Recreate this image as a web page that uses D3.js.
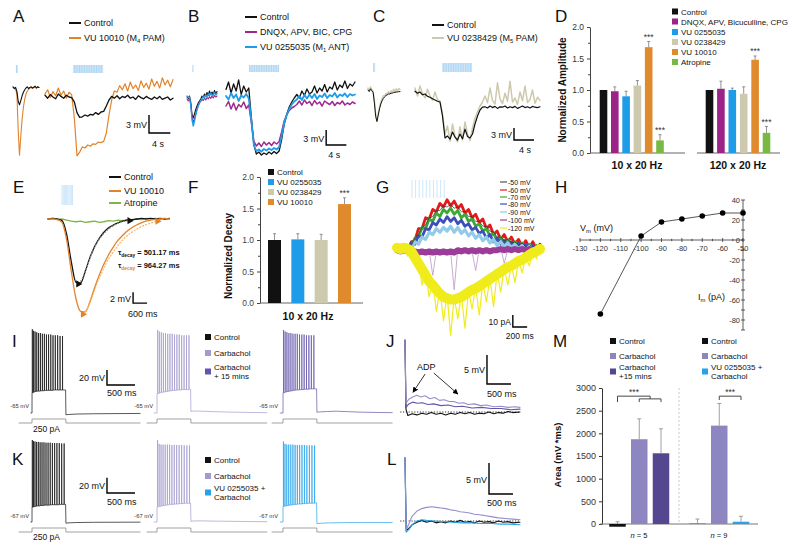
<!DOCTYPE html>
<html><head><meta charset="utf-8">
<script src="https://cdn.jsdelivr.net/npm/d3@7/dist/d3.min.js"></script>
<style>
html,body{margin:0;padding:0;background:#fff;}
svg{display:block;font-family:"Liberation Sans",Arial,Helvetica,sans-serif;}
</style></head><body>
<svg id="fig" width="800" height="549" viewBox="0 0 800 549"></svg>
<script>
// ================= DATA =================
// Panel A (mV, sampled every 0.25 s short / 0.5 s long)
const aShortCtrl=[0.2,-0.1,0.1,-0.6,-2.2,-2.8,-2.1,-1.3,-0.7,-0.3,0.0,0.2,-0.1,0.1,0.2,0.0,0.1,0.3,0.0,0.2,0.1];
const aShortVU=[0.1,0.0,-0.2,-1.0,-7.0,-11.2,-8.0,-5.2,-3.2,-1.9,-1.0,-0.5,-0.2,0.0,0.1,-0.1,0.2,0.1,0.0,0.2,0.1];
const aLongCtrl=[0.3,-0.2,0.4,0.0,-0.3,0.5,0.1,-0.2,0.3,0.0,-0.1,
 -0.8,-2.6,-3.4,-3.3,-3.0,-3.2,-2.9,-3.0,-2.6,-2.9,-2.5,-2.4,
 -1.5,-0.5,0.1,-0.2,
 0.2,-0.3,0.1,-0.1,0.3,-0.2,0.0,-0.4,0.2,-0.1,-0.3,0.1,-0.2,-0.4,0.0,-0.3,0.1,-0.4,-0.2,0.0,-0.5,-0.2];
const aLongVU=[0.5,1.2,-0.1,0.9,0.2,1.5,0.3,1.0,-0.2,0.8,0.4,
 -3.5,-9.8,-9.2,-8.3,-8.5,-8.0,-8.2,-7.8,-7.9,-7.5,-7.6,-7.4,
 -6.0,-3.0,-0.5,1.0,
 0.8,1.9,1.2,2.2,1.0,2.5,1.4,2.0,1.1,2.7,1.6,2.3,1.3,3.0,1.8,2.6,1.5,3.2,2.0,2.8,1.7,2.9];
// Panel B
const bShortCtrl=[0.0,-0.3,0.2,-1.0,-3.5,-4.2,-3.4,-2.5,-1.8,-1.2,-0.8,-0.4,0.2,-0.1,0.6,0.2,0.9,0.3,1.2,0.5,1.0,0.4,1.3,0.6,1.1];
const bShortVU=[0.2,-0.1,0.0,-1.5,-4.6,-5.8,-4.9,-3.6,-2.6,-1.8,-1.2,-0.7,-0.3,0.1,-0.2,0.4,0.0,0.6,0.2,0.8,0.3,0.5,0.9,0.4,0.7];
const bShortDNQX=[-0.4,-0.8,-0.3,-1.6,-4.0,-5.0,-4.4,-3.3,-2.4,-1.7,-1.2,-0.9,-0.5,-0.7,-0.2,-0.6,-0.1,-0.4,0.1,-0.3,0.2,-0.2,0.3,0.0,0.2];
const bLongCtrl=[1.5,3.0,0.8,2.6,1.2,3.4,0.5,2.2,1.0,1.8,
 -4.0,-9.5,-11.4,-11.0,-11.6,-11.2,-11.5,-11.0,-11.4,-10.9,-11.3,-10.8,
 -8.5,-5.5,-3.5,-2.0,-1.0,-0.2,
 0.5,-0.2,1.2,0.3,1.6,0.6,1.0,2.2,0.8,1.8,1.2,2.5,1.0,2.0,1.6,3.0,1.4,2.4,1.9,3.2,1.7,2.6,2.2,3.0];
const bLongVU=[0.2,-0.5,0.8,-0.2,0.5,-0.8,0.3,-0.1,0.6,-0.3,
 -4.5,-9.6,-10.8,-10.5,-10.9,-10.4,-10.7,-10.3,-10.6,-10.2,-10.5,-10.0,
 -7.8,-5.2,-3.6,-2.4,-1.5,-0.9,
 -0.5,0.2,-0.6,0.4,-0.3,0.5,-0.2,0.6,-0.4,0.3,0.0,0.7,-0.2,0.4,0.1,0.8,-0.1,0.5,0.2,0.7,0.0,0.6,0.3,0.5];
const bLongDNQX=[-1.8,-0.9,-2.4,-1.2,-2.6,-1.5,-2.0,-1.0,-2.3,-1.6,
 -5.0,-8.8,-9.8,-9.2,-9.9,-9.0,-9.6,-9.1,-9.7,-9.0,-9.4,-8.9,
 -7.0,-4.8,-3.6,-2.7,-2.2,-1.9,
 -1.5,-0.8,-1.6,-0.6,-1.3,-0.9,-1.7,-0.7,-1.4,-1.0,-1.8,-0.8,-1.2,-1.5,-0.9,-1.7,-1.1,-1.4,-0.8,-1.6,-1.2,-1.5,-1.0,-1.3];
// Panel C
const cShortCtrl=[0.0,-0.4,0.3,-0.2,-0.6,-3.2,-6.6,-7.9,-6.3,-4.7,-3.5,-2.7,-2.1,-1.7,-1.4,-1.2,-1.0,-1.0,-0.8,-0.8,-0.6,-0.6,-0.5,-0.5,-0.4,-0.4];
const cShortVU=[0.5,-0.2,0.8,0.0,-0.3,-2.6,-6.0,-7.4,-5.9,-4.2,-3.0,-2.2,-1.4,-1.5,-0.8,-1.1,-0.4,-0.9,-0.2,-0.6,0.2,-0.5,0.3,-0.3,0.4,0.1];
const cLongCtrl=[-0.3,-0.8,-0.5,-1.2,-1.0,-1.6,-1.8,-2.2,-2.5,-2.8,-3.0,
 -6.5,-12.0,-11.5,-12.3,-10.5,-11.8,-12.5,-11.0,-12.2,-9.8,-11.6,-12.0,
 -11.0,-8.5,-6.5,-5.0,-4.3,
 -4.2,-4.5,-4.0,-4.4,-4.1,-4.6,-4.2,-4.3,-4.0,-4.5,-4.2,-4.4,-4.1,-4.6,-4.3,-4.0,-4.4,-4.2,-4.5,-4.1,-4.3,-4.4,-4.2];
const cLongVU=[0.5,-1.5,1.0,-0.8,-2.0,0.2,-1.5,-2.6,-0.5,-2.4,-2.8,
 -6.0,-11.0,-9.0,-12.8,-8.5,-11.5,-13.0,-9.2,-12.5,-8.0,-11.0,-12.6,
 -9.5,-7.0,-5.5,-4.0,-3.0,
 -1.5,-3.2,0.5,-2.6,-3.5,1.8,-2.2,-3.4,-0.8,-2.8,2.2,-3.0,-2.0,-3.6,-0.5,-2.7,1.0,-3.1,-2.4,0.0,-3.3,-1.8,-2.6];
// Panel D (normalized amplitude)
const dCats=["Control","DNQX, APV, Bicuculline, CPG","VU 0255035","VU 0238429","VU 10010","Atropine"];
const dAmp10=[1.0,0.98,0.90,1.07,1.68,0.20];
const dErr10=[null,1.05,0.98,1.15,1.77,0.29];
const dAmp120=[1.0,1.02,1.0,0.94,1.48,0.32];
const dErr120=[null,1.14,1.03,1.05,1.54,0.42];
const dTicks=[0,0.5,1.0,1.5,2.0];
// Panel E (mV, every 0.2 s)
const eCtrl=[0,0.1,0,-0.3,-2.8,-7.8,-11.5,-11.6,-9.5,-7.0,-5.0,-3.5,-2.4,-1.6,-1.1,-0.7,-0.4,-0.2,-0.1,0.0,0.1,0,0.1,0.0,0.1,0.0,0.1];
const eVU=[0,0,-0.1,-0.6,-3.8,-9.5,-14.5,-16.8,-16.9,-15.0,-12.5,-10.2,-8.2,-6.5,-5.1,-3.9,-3.0,-2.2,-1.6,-1.1,-0.7,-0.4,-0.2,-0.1,0,0.1,0];
const eAtro=[0,0.1,-0.1,0,-0.2,-0.4,-0.5,-0.4,-0.6,-0.5,-0.4,-0.6,-0.5,-0.3,-0.4,-0.2,-0.3,-0.1,-0.2,0,-0.1,0.1,0,0.1,0,0.1,0];
const eFitCtrl=[-11.8,-10.6,-8.3,-6.1,-4.4,-3.1,-2.2,-1.5,-1.0,-0.6,-0.4,-0.3];      // from 1.3 s
const eFitVU=[-17.3,-16.2,-14.0,-11.8,-9.8,-8.0,-6.6,-5.4,-4.3,-3.4,-2.7,-2.1,-1.6,-1.2,-0.9,-0.6,-0.4]; // from 1.5 s
const pulses10=[0,0.05,0.1,0.15,0.2,0.25,0.3,0.35,0.4,0.45];
// Panel F (normalized decay)
const fCats=["Control","VU 0255035","VU 0238429","VU 10010"];
const fVals=[1.0,1.01,1.0,1.57];
const fErr=[1.1,1.1,1.09,1.67];
// Panel G (pA, every 0.05 s)
const gLabels=["-50 mV","-60 mV","-70 mV","-80 mV","-90 mV","-100 mV","-120 mV"];
const gGray=[1,-1,0,3,3,9,12,18,20,26,27,32,32,36,35,37,34,35,31,31,27,27,23,23,19,19,15,14,10,10,7,8,5,6,3,5,2,4,1,3,0];
const gRed=[2,-2,3,-1,6,7,17,17,26,25,33,31,38,35,41,36,40,34,37,30,33,26,29,22,25,17,20,12,15,8,12,6,10,4,8,2,7,1,6,0,4];
const gGreen=[-2,2,-2,3,1,9,10,18,17,25,23,30,27,33,30,34,29,32,26,29,23,25,19,21,15,17,11,13,7,10,5,8,3,6,2,5,1,4,0,3,-1];
const gBlue=[2,-2,2,-1,5,4,11,10,17,16,22,20,25,22,27,23,26,21,24,19,21,16,18,13,15,9,12,6,9,4,7,2,6,1,5,0,4,-1,3,-1,2];
const gLtBlue=[-2,2,-2,3,0,6,4,10,8,14,12,17,14,18,15,19,14,18,13,16,11,14,9,12,7,10,5,8,3,6,2,5,1,4,0,3,-1,3,-2,2,-2];
const gPurpleBand=[-1,-2,-1,-2,-3,-2,-3,-2,-3,-2,-3,-2,-3,-2,-3,-2,-3,-1,-2,-1,-2,-1,-2,-1,-2,-1,-2,-1,-1,0,-1,0,-1,0,-1,0,-1,0,-1,0,0];
const gPurpleSpikes=[-1,-3,0,-2,-4,-1,-5,-2,-4,-1,-22,-2,-3,-1,-5,-2,-34,0,-3,-1,-4,-2,-18,0,-2,-1,-3,0,-2,1,-12,0,-2,1,-1,0,-1,1,-1,0,0];
const gYellowBand=[1,0,1,0,-2,-7,-12,-17,-22,-27,-30,-34,-37,-40,-41,-42,-42,-41,-40,-38,-36,-34,-33,-31,-29,-27,-25,-23,-21,-19,-17,-15,-14,-12,-10,-9,-7,-5,-3,-2,0];
const gYellowSpikes=[2,-3,1,-6,-2,-12,-9,-30,-18,-40,-25,-52,-34,-60,-38,-72,-40,-58,-38,-66,-35,-50,-31,-55,-28,-44,-24,-48,-20,-36,-16,-30,-13,-28,-9,-20,-6,-14,-2,-8,0];
// Panel H (I-V)
const hV=[-120,-100,-90,-80,-70,-60,-50];
const hI=[-74,4,18,21,24,27,27];
const hXTicks=[-130,-120,-110,-100,-90,-80,-70,-60,-50];
const hYTicks=[40,20,0,-20,-40,-60,-80];
// Panels I / K: spikes [time ms, peak mV, trough mV]
const iCtrlSpikes=[[6,46,-38],[28,44,-37],[55,43,-36.5],[85,42,-36],[117,41,-36],[150,41,-35.5],[185,40,-35.5],[221,40,-35],[258,39,-35],[296,39,-35],[335,39,-35],[375,38,-34.5],[416,38,-34.5],[458,38,-34.5],[501,37,-34.5],[545,37,-34.5]];
const iCtrlPost=[[600,-34.5],[606,-67.3],[650,-67],[800,-66.4],[1100,-66],[1500,-65.8],[1930,-65.6]];
const iCarbSpikes=[[12,45,-39],[42,43,-38],[77,42,-37.5],[114,41,-37],[152,41,-36.5],[191,40,-36],[231,40,-35.5],[272,40,-35],[313,39,-35],[355,39,-34.5],[397,39,-34.5],[440,38,-34],[483,38,-34],[527,38,-34],[571,38,-33.5]];
const iCarbPost=[[600,-33.5],[606,-63],[650,-62.3],[800,-62.6],[1000,-63.2],[1300,-63.8],[1600,-64.2],[1960,-64.6]];
const iCarb15Spikes=[[10,45,-38],[38,43,-37],[70,42,-36.5],[105,41,-36],[141,41,-35.5],[178,40,-35],[216,40,-34.5],[255,40,-34.5],[295,39,-34],[336,39,-34],[377,39,-33.5],[419,38,-33.5],[462,38,-33],[506,38,-33],[551,38,-33]];
const iCarb15Post=[[600,-33],[606,-64],[650,-63.6],[800,-63],[950,-62.6],[1150,-63.2],[1400,-63.9],[1700,-64.3],[1950,-64.5]];
const kCtrlSpikes=[[6,40,-47.5],[27,38.5,-47],[53,38,-46.5],[82,37.5,-46],[113,37.5,-46],[145,37,-45.5],[179,37,-45.5],[214,37,-45],[250,36.5,-45],[287,36.5,-45],[325,36.5,-44.5],[364,36,-44.5],[404,36,-44.5],[445,36,-44.5],[487,36,-44],[530,35.5,-44],[574,35.5,-44]];
const kCtrlPost=[[600,-44],[606,-68.5],[660,-68.1],[800,-67.7],[1100,-67.4],[1500,-67.3],[1930,-67.2]];
const kCarbSpikes=[[10,40,-47],[38,35,-46.5],[72,34,-46],[108,34,-45.5],[146,34,-45],[185,34,-44.5],[225,34,-44],[266,33.5,-44],[308,33.5,-43.5],[351,33.5,-43.5],[395,33.5,-43],[440,33.5,-43],[486,33,-42.5],[533,33,-42.5],[580,33,-42.5]];
const kCarbPost=[[600,-42.5],[606,-66.3],[650,-65.6],[800,-65.5],[1000,-65.8],[1300,-66.1],[1600,-66.4],[1960,-66.6]];
const kVUSpikes=[[8,38,-46.5],[35,35,-46],[67,34,-45.5],[102,34,-45],[139,34,-44.5],[177,34,-44],[216,33.5,-44],[256,33.5,-43.5],[297,33.5,-43.5],[339,33.5,-43],[382,33.5,-43],[426,33,-42.5],[471,33,-42.5],[517,33,-42.5],[564,33,-42]];
const kVUPost=[[600,-42],[606,-69],[680,-68.6],[850,-68.1],[1100,-67.8],[1400,-67.7],[1700,-67.6],[1950,-67.6]];
const cur1=[[-232,0],[0,0],[0,250],[605,250],[605,0],[1930,0]];
const cur2=[[-179,0],[0,0],[0,250],[605,250],[605,0],[1960,0]];
const cur3=[[-196,0],[0,0],[0,250],[605,250],[605,0],[1950,0]];
// Panels J / L (mV relative to rest, time ms after step)
const jCtrl=[[0,12.4],[20,0.5],[60,-0.6],[150,-0.3],[250,-0.5],[350,-0.2],[450,-0.4],[550,-0.1],[650,-0.4],[750,-0.2],[850,-0.5],[950,-0.2],[1050,-0.4],[1150,-0.1],[1250,-0.3],[1350,-0.1],[1450,-0.4],[1550,-0.2],[1650,-0.3],[1750,0.0],[1850,-0.3],[1950,-0.1],[2050,-0.2],[2150,0.1],[2250,-0.1],[2400,0.0]];
const jCarb=[[0,12.4],[20,1.5],[80,2.2],[160,2.6],[250,2.9],[330,2.6],[420,2.8],[520,2.3],[620,2.5],[720,2.0],[820,2.1],[920,1.8],[1020,1.8],[1120,1.5],[1220,1.6],[1320,1.3],[1450,1.4],[1580,1.1],[1700,1.2],[1850,0.9],[2000,1.0],[2150,0.8],[2300,0.9],[2400,0.8]];
const jCarb15=[[0,12.4],[20,0.8],[80,1.4],[160,1.7],[260,1.5],[360,1.6],[480,1.3],[600,1.4],[750,1.1],[900,1.2],[1050,0.9],[1200,1.0],[1400,0.7],[1600,0.8],[1800,0.6],[2000,0.6],[2200,0.4],[2400,0.5]];
const lCtrl=[[0,10.2],[25,-1.5],[80,-1.2],[150,-0.6],[250,-0.2],[350,0.1],[450,-0.2],[550,0.0],[650,-0.3],[750,-0.1],[850,-0.3],[950,0.0],[1050,-0.2],[1150,0.1],[1250,-0.2],[1350,-0.1],[1450,-0.3],[1550,0.0],[1650,-0.2],[1750,-0.1],[1850,-0.3],[1950,0.0],[2050,-0.2],[2150,-0.1],[2250,-0.3],[2400,-0.2]];
const lCarb=[[0,10.2],[25,-1.4],[80,-0.5],[150,0.8],[250,1.6],[350,2.0],[450,2.2],[560,2.3],[650,2.2],[750,2.1],[850,2.0],[950,1.8],[1050,1.7],[1150,1.5],[1250,1.4],[1350,1.3],[1450,1.1],[1550,1.0],[1650,0.9],[1800,0.7],[1950,0.5],[2100,0.4],[2250,0.3],[2400,0.2]];
const lVU=[[0,10.2],[25,-1.8],[80,-1.4],[150,-0.6],[250,0.0],[350,0.2],[450,0.1],[600,0.0],[800,-0.1],[1000,-0.2],[1200,-0.3],[1400,-0.3],[1600,-0.4],[1800,-0.4],[2000,-0.5],[2200,-0.5],[2400,-0.6]];
// Panel M (area, mV*ms)
const mCats1=["Control","Carbachol","Carbachol +15 mins"];
const mVals1=[-60,1870,1560];
const mErr1=[50,2320,2100];
const mCats2=["Control","Carbachol","VU 0255035 + Carbachol"];
const mVals2=[5,2170,50];
const mErr2=[110,2660,170];
const mTicks=[0,500,1000,1500,2000,2500,3000];

// ================= DRAWING =================
const COL={ctrl:"#111",orange:"#e2832a",magenta:"#9c2a8c",blue:"#1f9ce8",beige:"#cdc9ae",green:"#7cb744",
  carb:"#a29bd0",carb15:"#6454ab",carbBar:"#8e86c0",carb15Bar:"#54478f",vu:"#26a2ea"};
const FONT='"Liberation Sans", Arial, Helvetica, sans-serif';
const svg=d3.select("#fig");
const defs=svg.append("defs");
const pat=defs.append("pattern").attr("id","stim").attr("width",1.7).attr("height",10).attr("patternUnits","userSpaceOnUse");
pat.append("rect").attr("width",1.7).attr("height",10).attr("fill","#aed6f3");
pat.append("rect").attr("width",0.55).attr("height",10).attr("fill","#e4f1fb");
defs.append("marker").attr("id","arr").attr("viewBox","0 0 10 10").attr("refX",9).attr("refY",5)
  .attr("markerWidth",7).attr("markerHeight",7).attr("orient","auto")
  .append("path").attr("d","M0,0L10,5L0,10z").attr("fill","#000");

function T(x,y,s,o){o=o||{};const size=o.size||9;
  const e=svg.append("text").attr("x",x).attr("y",y).attr("font-size",size).attr("fill",o.fill||"#111")
   .attr("text-anchor",o.anchor||"start");
  if(o.weight)e.attr("font-weight",o.weight); if(o.style)e.attr("font-style",o.style);
  if(o.rot!=null)e.attr("transform",`rotate(${o.rot},${x},${y})`);
  if(Array.isArray(s)){let shift=0;s.forEach(p=>{const ts=e.append("tspan").text(p.t);const tg=p.sub?size*0.25:0;
     if(tg!==shift){ts.attr("dy",tg-shift);shift=tg;} if(p.sub)ts.attr("font-size",size*0.65);
     if(p.fill)ts.attr("fill",p.fill); if(p.style)ts.attr("font-style",p.style);});}
  else e.text(s);
  return e;}
function ser(vals,step,t0){t0=t0||0;return vals.map((v,i)=>[t0+i*step,v]);}
function P(data,xs,ys,color,w,o){o=o||{};
  const p=svg.append("path").datum(data).attr("d",d3.line().x(d=>xs(d[0])).y(d=>ys(d[1])).curve(o.curve||d3.curveLinear))
   .attr("fill","none").attr("stroke",color).attr("stroke-width",w).attr("stroke-linejoin","round").attr("stroke-linecap","round");
  if(o.dash)p.attr("stroke-dasharray",o.dash).attr("stroke-linecap","butt"); if(o.op!=null)p.attr("opacity",o.op); return p;}
function bar(xs,ys,t0,v0,dt,dv,vLab,tLab,o){o=o||{};
  const x0=xs(t0),y0=ys(v0),x1=xs(t0+dt),y1=ys(v0+dv);
  svg.append("path").attr("d",`M${x0},${y1}V${y0}H${x1}`).attr("fill","none").attr("stroke","#000").attr("stroke-width",1.4);
  T(x0-2,(y0+y1)/2+4,vLab,{size:o.size||9,anchor:"end"});
  T(x0+(o.tdx||0),y0+(o.tdy||13),tLab,{size:o.size||9});}
function stimBlock(xs,t0,t1,y0,y1){svg.append("rect").attr("x",xs(t0)).attr("y",y0).attr("width",xs(t1)-xs(t0)).attr("height",y1-y0).attr("fill","url(#stim)");}
function stimPulses(xs,t0,y0,y1){pulses10.forEach(p=>svg.append("line").attr("x1",xs(t0+p)).attr("x2",xs(t0+p)).attr("y1",y0).attr("y2",y1).attr("stroke","#c2e1f7").attr("stroke-width",0.8));}
function lineLeg(x,y,color,label,size){svg.append("line").attr("x1",x).attr("x2",x+12).attr("y1",y).attr("y2",y).attr("stroke",color).attr("stroke-width",2);
  T(x+15,y+3.2,label,{size:size||9});}
function sqLeg(x,yc,color,lines,size){size=size||8;
  svg.append("rect").attr("x",x).attr("y",yc-3).attr("width",6).attr("height",6).attr("fill",color);
  lines.forEach((l,i)=>T(x+9,yc+3+(i-(lines.length-1)/2)*9,l,{size:size}));}
function panel(ch,x,y){T(x,y,ch,{size:17});}

// ---------- A ----------
panel("A",13,22);
lineLeg(69,23,COL.ctrl,"Control");
lineLeg(69,38,COL.orange,[{t:"VU 10010 (M"},{t:"4",sub:1},{t:" PAM)"}]);
{const xs=d3.scaleLinear().domain([0,5]).range([13,39]);
 const ys=d3.scaleLinear().domain([0,-10]).range([88,148]);
 const xl=d3.scaleLinear().domain([0,24]).range([45,173]);
 const yl=d3.scaleLinear().domain([0,-10]).range([97,157]);
 stimBlock(xs,0.55,0.95,65,73); stimBlock(xl,5.25,10.9,65,73);
 P(ser(aShortVU,0.25),xs,ys,COL.orange,1.1); P(ser(aShortCtrl,0.25),xs,ys,COL.ctrl,1.1);
 P(ser(aLongVU,0.5),xl,yl,COL.orange,1.2); P(ser(aLongCtrl,0.5),xl,yl,COL.ctrl,1.3);
 bar(xl,yl,19.5,-6,4,3,"3 mV","4 s",{tdx:3,tdy:14});}

// ---------- B ----------
panel("B",188,22);
lineLeg(245,17,COL.ctrl,"Control");
lineLeg(245,32,COL.magenta,"DNQX, APV, BIC, CPG");
lineLeg(245,47,COL.blue,[{t:"VU 0255035 (M"},{t:"1",sub:1},{t:" ANT)"}]);
{const xs=d3.scaleLinear().domain([0,6]).range([187,217]);
 const ys=d3.scaleLinear().domain([0,-10]).range([97,147]);
 const xl=d3.scaleLinear().domain([0,25.5]).range([226,355]);
 stimBlock(xs,1.0,1.3,65,72); stimBlock(xl,4.55,10.5,65,72);
 P(ser(bShortCtrl,0.25),xs,ys,COL.ctrl,1.1); P(ser(bShortDNQX,0.25),xs,ys,COL.magenta,1.1); P(ser(bShortVU,0.25),xs,ys,COL.blue,1.3);
 P(ser(bLongCtrl,0.5),xl,ys,COL.ctrl,1.3); P(ser(bLongDNQX,0.5),xl,ys,COL.magenta,1.5); P(ser(bLongVU,0.5),xl,ys,COL.blue,1.8);
 bar(xl,ys,19.8,-9.6,4,3,"3 mV","4 s",{tdx:2,tdy:13});}

// ---------- C ----------
panel("C",373,22);
lineLeg(432,25,COL.ctrl,"Control");
lineLeg(432,38,COL.beige,[{t:"VU 0238429 (M"},{t:"5",sub:1},{t:" PAM)"}]);
{const xs=d3.scaleLinear().domain([0,6.25]).range([368,400]);
 const ys=d3.scaleLinear().domain([0,-10]).range([90,130]);
 const xl=d3.scaleLinear().domain([0,25]).range([415,540]);
 stimBlock(xs,1.0,1.4,63,72); stimBlock(xl,5.4,11.4,63,72);
 P(ser(cShortVU,0.25),xs,ys,COL.beige,1.4); P(ser(cShortCtrl,0.25),xs,ys,COL.ctrl,1.0);
 P(ser(cLongVU,0.5),xl,ys,COL.beige,1.5); P(ser(cLongCtrl,0.5),xl,ys,COL.ctrl,1.2);
 bar(xl,ys,19.8,-12.5,4,3,"3 mV","4 s",{tdx:5,tdy:13});}

// ---------- D ----------
panel("D",555,22);
const dColors=[COL.ctrl,"#9c2387",COL.blue,COL.beige,"#e08a2e","#79b943"];
{const yD=d3.scaleLinear().domain([0,2]).range([153,27]);
 const gA=svg.append("g").attr("transform","translate(590,0)")
   .call(d3.axisLeft(yD).tickValues(dTicks).tickFormat(d3.format(".1f")).tickSize(3).tickSizeOuter(0));
 gA.attr("font-family",FONT).attr("font-size",8.5).attr("color","#444");
 gA.selectAll("text").attr("fill","#333");
 svg.append("g").attr("transform","translate(590,0)").call(d3.axisLeft(yD).tickValues([0.25,0.75,1.25,1.75]).tickFormat("").tickSize(2).tickSizeOuter(0)).attr("color","#444").select(".domain").remove();
 svg.append("line").attr("x1",590).attr("x2",685).attr("y1",yD(0)).attr("y2",yD(0)).attr("stroke","#666");
 svg.append("line").attr("x1",697).attr("x2",780).attr("y1",yD(0)).attr("y2",yD(0)).attr("stroke","#666");
 const groups=[[d3.scalePoint().domain(dCats).range([603.5,660]),dAmp10,dErr10],[d3.scalePoint().domain(dCats).range([709.5,766.5]),dAmp120,dErr120]];
 groups.forEach(([xs,vals,errs])=>{
   dCats.forEach((c,i)=>{const x=xs(c);
     svg.append("rect").attr("x",x-3.8).attr("width",7.6).attr("y",yD(vals[i])).attr("height",yD(0)-yD(vals[i])).attr("fill",dColors[i]);
     if(errs[i]!=null){svg.append("path").attr("d",`M${x},${yD(vals[i])}V${yD(errs[i])}M${x-1.5},${yD(errs[i])}H${x+1.5}`).attr("stroke","#777").attr("stroke-width",0.8).attr("fill","none");}
     if(i>=4)T(x,yD(errs[i])-1.5,"***",{size:8.5,anchor:"middle",fill:"#333"});});});
 T(566,90,"Normalized Amplitude",{size:10,weight:"bold",anchor:"middle",rot:-90});
 T(637,169,"10 x 20 Hz",{size:10.5,weight:"bold",anchor:"middle"});
 T(738,169,"120 x 20 Hz",{size:10.5,weight:"bold",anchor:"middle"});
 const legY=[11.5,21.5,32,42,52,62];
 dCats.forEach((c,i)=>sqLeg(672,legY[i],dColors[i],[c],8));}

// ---------- E ----------
panel("E",13,193);
lineLeg(109,177,COL.ctrl,"Control");
lineLeg(109,191,COL.orange,"VU 10010");
lineLeg(109,203,COL.green,"Atropine");
{const xs=d3.scaleLinear().domain([0,5.2]).range([48,169.2]);
 const ys=d3.scaleLinear().domain([0,-10]).range([219,274]);
 stimPulses(xs,0.6,185,205);
 P(ser(eAtro,0.2),xs,ys,COL.green,1.3);
 P(ser(eCtrl,0.2),xs,ys,COL.ctrl,1.3,{curve:d3.curveMonotoneX});
 P(ser(eFitCtrl,0.2,1.3),xs,ys,"#888",1.2,{curve:d3.curveMonotoneX,dash:"2,1.2"});
 P(ser(eVU,0.2),xs,ys,COL.orange,1.3,{curve:d3.curveMonotoneX});
 P(ser(eFitVU,0.2,1.5),xs,ys,"#f4b56a",1.2,{curve:d3.curveMonotoneX,dash:"2,1.2"});
 const tri=d3.symbol().type(d3.symbolTriangle).size(22);
 [[1.3,eFitCtrl[0],COL.ctrl],[1.3+0.2*(eFitCtrl.length-1),eFitCtrl[eFitCtrl.length-1],COL.ctrl],
  [1.5,eFitVU[0],COL.orange],[1.5+0.2*(eFitVU.length-1),eFitVU[eFitVU.length-1],COL.orange]].forEach(m=>{
   svg.append("path").attr("d",tri()).attr("fill",m[2]).attr("transform",`translate(${xs(m[0])},${ys(m[1])}) rotate(90)`);});
 T(118,255,[{t:"τ"},{t:"decay",sub:1},{t:" = 501.17 ms"}],{size:7.5,weight:"bold"});
 T(118,268,[{t:"τ"},{t:"decay",sub:1,fill:COL.orange},{t:" = 964.27 ms"}],{size:7.5,weight:"bold"});
 bar(xs,ys,3.65,-15.3,0.6,2,"2 mV","600 ms",{tdx:-5,tdy:14});}

// ---------- F ----------
panel("F",188,193);
const fColors=[COL.ctrl,COL.blue,COL.beige,"#e08a2e"];
{const yF=d3.scaleLinear().domain([0,2]).range([303,177]);
 const xF=d3.scalePoint().domain(fCats).range([274.5,344.5]);
 const gA=svg.append("g").attr("transform","translate(260,0)")
   .call(d3.axisLeft(yF).tickValues(dTicks).tickFormat(d3.format(".1f")).tickSize(3).tickSizeOuter(0));
 gA.attr("font-family",FONT).attr("font-size",8.5).attr("color","#444");
 svg.append("g").attr("transform","translate(260,0)").call(d3.axisLeft(yF).tickValues([0.25,0.75,1.25,1.75]).tickFormat("").tickSize(2).tickSizeOuter(0)).attr("color","#444").select(".domain").remove();
 svg.append("line").attr("x1",260).attr("x2",363).attr("y1",yF(0)).attr("y2",yF(0)).attr("stroke","#666");
 fCats.forEach((c,i)=>{const x=xF(c);
   svg.append("rect").attr("x",x-6.5).attr("width",13).attr("y",yF(fVals[i])).attr("height",yF(0)-yF(fVals[i])).attr("fill",fColors[i]);
   svg.append("path").attr("d",`M${x},${yF(fVals[i])}V${yF(fErr[i])}M${x-1.5},${yF(fErr[i])}H${x+1.5}`).attr("stroke","#777").attr("stroke-width",0.8).attr("fill","none");});
 T(xF("VU 10010"),yF(fErr[3])-1.5,"***",{size:8.5,anchor:"middle",fill:"#333"});
 T(232,256,"Normalized Decay",{size:10,weight:"bold",anchor:"middle",rot:-90});
 T(308,320,"10 x 20 Hz",{size:10.5,weight:"bold",anchor:"middle"});
 const legY=[172,182,192,202];
 fCats.forEach((c,i)=>sqLeg(268,legY[i],fColors[i],[c],8));}

// ---------- G ----------
panel("G",376,193);
const gCols=["#555","#e31a1c","#3aa935","#3f4fb8","#91cbe8","#9a3c98","#f0ec1c"];
{const xs=d3.scaleLinear().domain([0,2]).range([397,540]);
 const ys=d3.scaleLinear().domain([0,10]).range([249,237]);
 stimPulses(xs,0.21,180,198);
 P(ser(gRed,0.05),xs,ys,gCols[1],2.8);
 P(ser(gGreen,0.05),xs,ys,gCols[2],2.8);
 P(ser(gBlue,0.05),xs,ys,gCols[3],2.8);
 P(ser(gLtBlue,0.05),xs,ys,gCols[4],3.2);
 P(ser(gGray,0.05),xs,ys,"#333",0.7);
 P(ser(gPurpleSpikes,0.05),xs,ys,"#c4a0cc",0.9);
 P(ser(gPurpleBand,0.05),xs,ys,gCols[5],6);
 P(ser(gYellowSpikes,0.05),xs,ys,gCols[6],1.2);
 P(ser(gYellowBand,0.05),xs,ys,gCols[6],10);
 const legY=[182,190,197,204,212,220,228];
 gLabels.forEach((l,i)=>{svg.append("line").attr("x1",500).attr("x2",507).attr("y1",legY[i]).attr("y2",legY[i]).attr("stroke",gCols[i]).attr("stroke-width",1.2);
   T(508,legY[i]+2.5,l,{size:7});});
 bar(xs,ys,1.62,-65,0.2,10,"10 pA","200 ms",{tdx:-7,tdy:12,size:8.5});}

// ---------- H ----------
panel("H",555,193);
{const xs=d3.scaleLinear().domain([-130,-50]).range([580,743]);
 const ys=d3.scaleLinear().domain([-90,40]).range([330,200]);
 const ax=svg.append("g").attr("stroke","#333").attr("stroke-width",0.8);
 ax.append("line").attr("x1",xs(-130)).attr("x2",xs(-50)).attr("y1",ys(0)).attr("y2",ys(0));
 ax.append("line").attr("x1",xs(-50)).attr("x2",xs(-50)).attr("y1",ys(40)).attr("y2",ys(-90));
 d3.range(-130,-49,5).forEach(v=>{const L=(v%10===0)?2:1.2;ax.append("line").attr("x1",xs(v)).attr("x2",xs(v)).attr("y1",ys(0)-L).attr("y2",ys(0)+L);});
 d3.range(-90,41,10).forEach(v=>{ax.append("line").attr("x1",xs(-50)-2).attr("x2",xs(-50)+2).attr("y1",ys(v)).attr("y2",ys(v));});
 hXTicks.forEach(v=>T(xs(v),ys(0)+11,String(v),{size:7.5,anchor:"middle",fill:"#333"}));
 hYTicks.forEach(v=>T(xs(-50)-3,ys(v)+2.7,String(v),{size:7.5,anchor:"end",fill:"#333"}));
 P(hV.map((v,i)=>[v,hI[i]]),xs,ys,"#444",0.9);
 hV.forEach((v,i)=>svg.append("circle").attr("cx",xs(v)).attr("cy",ys(hI[i])).attr("r",2.8).attr("fill","#000"));
 T(580,231,[{t:"V"},{t:"m",sub:1},{t:" (mV)"}],{size:9});
 T(698,300,[{t:"I"},{t:"m",sub:1},{t:" (pA)"}],{size:9});}

// ---------- I / K ----------
function spikeTrace(spikes,post,base,tStart){const pts=[[tStart,base],[0,base]];let prev=spikes[0][2];pts.push([1,prev]);
  spikes.forEach(s=>{pts.push([s[0]-1,prev],[s[0],s[1]],[s[0]+2,s[2]]);prev=s[2];});
  post.forEach(p=>pts.push(p));return pts;}
panel("I",12,347); panel("K",12,465);
{const pxPerMs=0.056;
 const xI=[32,157,283].map(x0=>d3.scaleLinear().domain([0,1000]).range([x0,x0+1000*pxPerMs]));
 const yI=d3.scaleLinear().domain([-65,45]).range([413,330]);
 const yK=d3.scaleLinear().domain([-67,40]).range([522,440]);
 const yIc=d3.scaleLinear().domain([0,250]).range([423,419]);
 const yKc=d3.scaleLinear().domain([0,250]).range([532,528]);
 [cur1,cur2,cur3].forEach((c,i)=>{P(c,xI[i],yIc,"#8a8a8a",0.8);P(c,xI[i],yKc,"#8a8a8a",0.8);});
 P(spikeTrace(iCtrlSpikes,iCtrlPost,-65,-20),xI[0],yI,COL.ctrl,0.7);
 P(spikeTrace(iCarbSpikes,iCarbPost,-65,-50),xI[1],yI,COL.carb,0.7);
 P(spikeTrace(iCarb15Spikes,iCarb15Post,-65,-50),xI[2],yI,COL.carb15,0.7);
 P(spikeTrace(kCtrlSpikes,kCtrlPost,-67,-20),xI[0],yK,COL.ctrl,0.7);
 P(spikeTrace(kCarbSpikes,kCarbPost,-67,-50),xI[1],yK,COL.carb,0.7);
 P(spikeTrace(kVUSpikes,kVUPost,-67,-50),xI[2],yK,COL.vu,0.7);
 [29,153,278].forEach(x=>{T(x,408,"-65 mV",{size:5.8,anchor:"end",fill:"#333"});T(x,518,"-67 mV",{size:5.8,anchor:"end",fill:"#333"});});
 T(33,432,"250 pA",{size:8.5}); T(33,540,"250 pA",{size:8.5});
 bar(xI[0],yI,1339,-27.9,500,20,"20 mV","500 ms",{tdx:0,tdy:11});
 bar(xI[0],yK,1339,-29.1,500,20,"20 mV","500 ms",{tdx:0,tdy:12});
 sqLeg(205,337,COL.ctrl,["Control"]);
 sqLeg(205,353,COL.carb,["Carbachol"]);
 sqLeg(205,371.5,COL.carb15,["Carbachol","+ 15 mins"]);
 sqLeg(205,460,COL.ctrl,["Control"]);
 sqLeg(205,476,COL.carb,["Carbachol"]);
 sqLeg(205,492.5,COL.vu,["VU 0255035 +","Carbachol"]);}

// ---------- J / L ----------
panel("J",386,347); panel("L",387,465);
{const xs=d3.scaleLinear().domain([0,2400]).range([405,520]);
 const yJ=d3.scaleLinear().domain([0,5]).range([412,383]);
 const yL=d3.scaleLinear().domain([0,5]).range([521,490]);
 P([[-100,0],[2400,0]],xs,yJ,"#000",0.8,{dash:"1.2,1.6"});
 P([[-100,0],[2400,0]],xs,yL,"#000",0.8,{dash:"1.2,1.6"});
 P(jCtrl,xs,yJ,COL.ctrl,1.1); P(jCarb15,xs,yJ,COL.carb15,1.1); P(jCarb,xs,yJ,"#958ecb",1.1);
 P(lCtrl,xs,yL,COL.ctrl,1.1); P(lVU,xs,yL,COL.vu,1.1); P(lCarb,xs,yL,"#958ecb",1.1);
 T(417,370,"ADP",{size:9});
 svg.append("line").attr("x1",xs(420)).attr("y1",374).attr("x2",xs(167)).attr("y2",yJ(3.4)).attr("stroke","#000").attr("stroke-width",0.8).attr("marker-end","url(#arr)");
 svg.append("line").attr("x1",xs(600)).attr("y1",373).attr("x2",xs(1104)).attr("y2",yJ(3.1)).attr("stroke","#000").attr("stroke-width",0.8).attr("marker-end","url(#arr)");
 bar(xs,yJ,1711,4.83,500,5,"5 mV","500 ms",{tdx:0,tdy:13});
 bar(xs,yL,1753,4.35,500,5,"5 mV","500 ms",{tdx:-2,tdy:12});}

// ---------- M ----------
panel("M",553,347);
{const yM=d3.scaleLinear().domain([0,3000]).range([524,388]);
 const gA=svg.append("g").attr("transform","translate(602,0)")
   .call(d3.axisLeft(yM).tickValues(mTicks).tickFormat(d3.format("d")).tickSize(3).tickSizeOuter(0));
 gA.attr("font-family",FONT).attr("font-size",9).attr("color","#333");
 svg.append("line").attr("x1",600).attr("x2",758).attr("y1",yM(0)).attr("y2",yM(0)).attr("stroke","#777");
 svg.append("line").attr("x1",679).attr("x2",679).attr("y1",yM(3000)).attr("y2",yM(0)).attr("stroke","#bbb").attr("stroke-width",0.8).attr("stroke-dasharray","2,2");
 const x1=d3.scalePoint().domain(mCats1).range([617.5,661]);
 const x2=d3.scalePoint().domain(mCats2).range([697.5,741]);
 const cols1=[COL.ctrl,COL.carbBar,COL.carb15Bar], cols2=[COL.ctrl,COL.carbBar,COL.vu];
 [[x1,mCats1,mVals1,mErr1,cols1],[x2,mCats2,mVals2,mErr2,cols2]].forEach(([xs,cats,vals,errs,cols])=>{
   cats.forEach((c,i)=>{const x=xs(c),v=vals[i];
     svg.append("rect").attr("x",x-8.25).attr("width",16.5).attr("y",yM(Math.max(v,0))).attr("height",Math.abs(yM(v)-yM(0))).attr("fill",cols[i]);
     svg.append("path").attr("d",`M${x},${yM(Math.max(v,0))}V${yM(errs[i])}M${x-2},${yM(errs[i])}H${x+2}`).attr("stroke","#888").attr("stroke-width",0.8).attr("fill","none");});});
 const bk=svg.append("g").attr("stroke","#333").attr("stroke-width",0.9).attr("fill","none");
 const mid=(x1(mCats1[1])+x1(mCats1[2]))/2;
 bk.append("path").attr("d",`M${x1(mCats1[0])},${yM(2690)}V${yM(2820)}H${mid}V${yM(2760)}`);
 bk.append("path").attr("d",`M${x1(mCats1[1])},${yM(2690)}V${yM(2760)}H${x1(mCats1[2])}V${yM(2690)}`);
 bk.append("path").attr("d",`M${x2(mCats2[1])},${yM(2735)}V${yM(2820)}H${x2(mCats2[2])}V${yM(2735)}`);
 T(634,yM(2820)-1.5,"***",{size:8.5,anchor:"middle",fill:"#333"});
 T((x2(mCats2[1])+x2(mCats2[2]))/2,yM(2820)-1.5,"***",{size:8.5,anchor:"middle",fill:"#333"});
 T(639,538,[{t:"n",style:"italic"},{t:" = 5"}],{size:7.5,anchor:"middle"});
 T(719,538,[{t:"n",style:"italic"},{t:" = 9"}],{size:7.5,anchor:"middle"});
 T(561,455,"Area (mV *ms)",{size:9.5,weight:"bold",anchor:"middle",rot:-90});
 sqLeg(610,341,COL.ctrl,["Control"]);
 sqLeg(610,356,COL.carbBar,["Carbachol"]);
 sqLeg(610,371.5,COL.carb15Bar,["Carbachol","+15 mins"]);
 sqLeg(702,341,COL.ctrl,["Control"]);
 sqLeg(702,356,COL.carbBar,["Carbachol"]);
 sqLeg(702,371.5,COL.vu,["VU 0255035 +","Carbachol"]);}
</script></body></html>
